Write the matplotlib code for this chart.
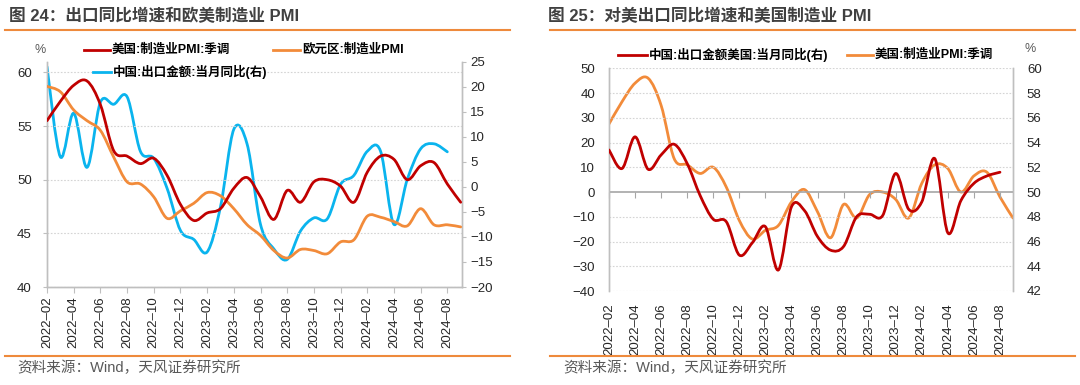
import matplotlib
matplotlib.use('Agg')
import matplotlib.pyplot as plt
from matplotlib.path import Path
from matplotlib.patches import PathPatch
from matplotlib.lines import Line2D
import numpy as np

plt.rcParams['font.family'] = ['Liberation Sans', 'Noto Sans CJK SC', 'DejaVu Sans']

# ---------------- data ----------------
tick_labels = ["2022–02", "2022–04", "2022–06", "2022–08", "2022–10", "2022–12",
               "2023–02", "2023–04", "2023–06", "2023–08", "2023–10", "2023–12",
               "2024–02", "2024–04", "2024–06", "2024–08"]

us_pmi = [55.5, 57.3, 58.8, 59.2, 57.0, 52.7, 52.2, 51.5, 52.0, 50.4, 47.7, 46.2,
          46.9, 47.3, 49.2, 50.2, 48.4, 46.3, 49.0, 47.9, 49.8, 50.0, 49.4, 47.9,
          50.7, 52.2, 51.9, 50.0, 51.3, 51.6, 49.6, 47.9]

ez_pmi = [58.7, 58.2, 56.5, 55.5, 54.6, 52.1, 49.8, 49.6, 48.4, 46.4, 47.1, 47.8,
          48.8, 48.5, 47.3, 45.8, 44.8, 43.4, 42.7, 43.5, 43.4, 43.1, 44.2, 44.4,
          46.6, 46.5, 46.1, 45.7, 47.3, 45.8, 45.8, 45.6]

cn_export = [24.0, 6.0, 14.7, 3.9, 16.9, 16.5, 18.0, 7.1, 5.7, -0.3, -8.7, -10.5,
             -13.0, -4.0, 11.5, 8.5, -7.5, -12.4, -14.5, -8.8, -6.2, -6.4, 0.5, 2.3,
             7.1, 7.1, -7.5, 1.5, 7.6, 8.6, 7.0]

cn_export_us = [17.0, 9.5, 22.3, 9.2, 15.0, 19.3, 11.5, -1.5, -11.0, -12.0, -25.5, -20.5,
                -14.0, -31.5, -6.0, -7.5, -18.0, -23.5, -22.0, -10.0, -9.0, -9.5, 7.5, -7.0,
                -4.0, 13.5, -16.5, -3.5, 3.5, 6.5, 8.0]

RED = '#C00000'
ORANGE = '#F28B3A'
BLUE = '#0AB4EE'
SPINE = '#BFBFBF'
GRID = '#D4D4D4'
TXT = '#262626'
SEP = '#EE8A3C'

W, H = 1080, 385
fig = plt.figure(figsize=(W / 100, H / 100), dpi=100)


def rect(l, t, r, b):
    return [l / W, 1 - b / H, (r - l) / W, (b - t) / H]


def fx(x):
    return x / W


def fy(y):
    return 1 - y / H


def smooth(ax, y, color, lw=2.0):
    """Excel-style smoothed line (Catmull-Rom as cubic Bezier) in data coords."""
    x = np.arange(len(y), dtype=float)
    pts = np.column_stack([x, np.asarray(y, float)])
    n = len(pts)
    verts = [pts[0]]
    codes = [Path.MOVETO]
    for k in range(n - 1):
        p0 = pts[k - 1] if k > 0 else pts[k]
        p1 = pts[k]
        p2 = pts[k + 1]
        p3 = pts[k + 2] if k + 2 < n else pts[k + 1]
        c1 = p1 + (p2 - p0) / 6.0
        c2 = p2 - (p3 - p1) / 6.0
        verts += [c1, c2, p2]
        codes += [Path.CURVE4] * 3
    ax.add_patch(PathPatch(Path(verts, codes), fill=False, edgecolor=color, lw=lw,
                           capstyle='round', joinstyle='round', zorder=3))


def style_axes(ax):
    ax.set_facecolor('none')
    ax.spines['top'].set_visible(False)
    for s in ['left', 'right', 'bottom']:
        ax.spines[s].set_color(SPINE)
        ax.spines[s].set_linewidth(1.0)


tick_pos = list(range(0, 2 * len(tick_labels), 2))

# ================= left chart =================
axL = fig.add_axes(rect(47, 61.7, 462, 287))
axL.set_xlim(0, 31.1)
axL.set_ylim(40, 61)
axL.set_yticks([40, 45, 50, 55, 60])
axL.grid(axis='y', color=GRID, linestyle=(0, (1.5, 1.5)), lw=0.8)
axL.set_xticks(tick_pos)
axL.set_xticklabels(tick_labels, rotation=90, fontsize=9.5, color=TXT)
style_axes(axL)
axL.tick_params(axis='x', length=4, color=SPINE, pad=3)
axL.tick_params(axis='y', length=3, color=SPINE, labelsize=9.5, labelcolor=TXT, pad=8)

axL2 = axL.twinx()
axL2.set_ylim(-20, 25)
axL2.set_yticks(list(range(-20, 30, 5)))
style_axes(axL2)
axL2.tick_params(axis='y', length=3, color=SPINE, labelsize=9.5, labelcolor=TXT, pad=3)

smooth(axL, ez_pmi, ORANGE)
smooth(axL2, cn_export, BLUE)
smooth(axL, us_pmi, RED)
axL.set_zorder(axL2.get_zorder() + 1)
axL.patch.set_visible(False)

# ================= right chart =================
axR = fig.add_axes(rect(609, 68.3, 1013, 291))
axR.set_xlim(0, 31)
axR.set_ylim(-40, 50)
axR.set_yticks(list(range(-40, 60, 10)))
for v in range(-40, 60, 10):
    if v != 0:
        axR.axhline(v, color=GRID, linestyle=(0, (1.5, 1.5)), lw=0.8, zorder=0)
axR.axhline(0, color='#A6A6A6', lw=1.2, zorder=1)
axR.set_xticks(tick_pos)
axR.set_xticklabels(tick_labels, rotation=90, fontsize=9.5, color=TXT)
style_axes(axR)
axR.spines['bottom'].set_visible(False)
axR.tick_params(axis='x', length=0, pad=9)
axR.tick_params(axis='y', length=0, labelsize=9.5, labelcolor=TXT, pad=10)

sec = axR.secondary_xaxis(40 / 90)
sec.set_xticks(tick_pos)
sec.set_xticklabels([])
sec.spines['bottom'].set_visible(False)
sec.tick_params(axis='x', length=4, color='#A6A6A6', direction='out')

axR2 = axR.twinx()
axR2.set_ylim(42, 60)
axR2.set_yticks(list(range(42, 62, 2)))
style_axes(axR2)
axR2.spines['bottom'].set_visible(False)
axR2.tick_params(axis='y', length=0, labelsize=9.5, labelcolor=TXT, pad=10)

smooth(axR2, us_pmi, ORANGE)
smooth(axR, cn_export_us, RED)
axR.set_zorder(axR2.get_zorder() + 1)
axR.patch.set_visible(False)

# ================= decorations =================
title_kw = dict(fontsize=12, color='#404040', fontweight='bold', va='center', ha='left',
                family=['Liberation Sans', 'Noto Sans CJK SC'])
fig.text(fx(9), fy(16), "图 24：出口同比增速和欧美制造业 PMI", **title_kw)
fig.text(fx(548), fy(16), "图 25：对美出口同比增速和美国制造业 PMI", **title_kw)

for (x0, x1) in [(5, 510), (550, 1075)]:
    fig.add_artist(Line2D([fx(x0), fx(x1)], [fy(30), fy(30)], color=SEP, lw=1.5))
    fig.add_artist(Line2D([fx(x0), fx(x1)], [fy(356), fy(356)], color=SEP, lw=1.5))

src_kw = dict(fontsize=10.5, color='#595959', va='center', ha='left')
fig.text(fx(17), fy(368), "资料来源：Wind，天风证券研究所", **src_kw)
fig.text(fx(563), fy(368), "资料来源：Wind，天风证券研究所", **src_kw)

pct_kw = dict(fontsize=9, color='#595959', va='center', ha='center')
fig.text(fx(40), fy(50), "%", **pct_kw)
fig.text(fx(1030), fy(49), "%", **pct_kw)

leg_kw = dict(fontsize=9, color='black', fontweight='bold', va='center', ha='left')


def legend_item(x0, x1, y, color, label):
    fig.add_artist(Line2D([fx(x0), fx(x1)], [fy(y), fy(y)], color=color, lw=2.0))
    fig.text(fx(x1 + 2), fy(y), label, **leg_kw)


legend_item(84, 110, 50, RED, "美国:制造业PMI:季调")
legend_item(273, 300, 50, ORANGE, "欧元区:制造业PMI")
legend_item(93, 111, 72, BLUE, "中国:出口金额:当月同比(右)")
legend_item(618, 647, 55, RED, "中国:出口金额美国:当月同比(右)")
legend_item(847, 873, 55, ORANGE, "美国:制造业PMI:季调")

fig.savefig('out.png', dpi=100)
